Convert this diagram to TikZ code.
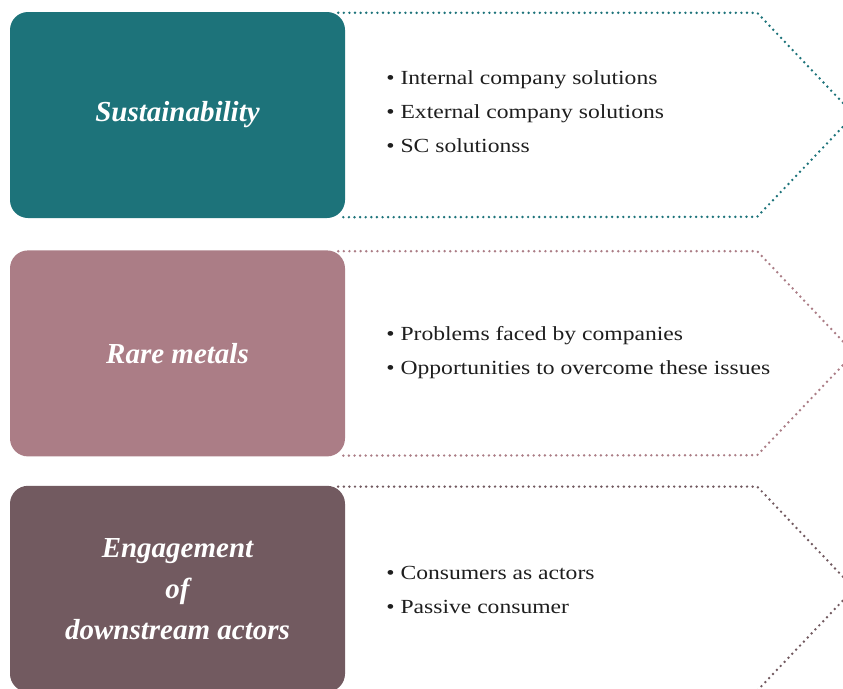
\documentclass[tikz,border=0pt]{standalone}
\usepackage{fontspec}
\setmainfont{Liberation Serif}
\newfontfamily\listfont{Liberation Serif}[FakeStretch=1.18]
\usetikzlibrary{positioning}
\definecolor{sustteal}{RGB}{29, 115, 122}
\definecolor{metalrose}{RGB}{171, 125, 134}
\definecolor{actorplum}{RGB}{114, 90, 96}
\definecolor{listgray}{RGB}{30, 30, 30}

\begin{document}
\begin{tikzpicture}[
  x=1pt, y=1pt,
  topicbox/.style={
    rectangle, rounded corners=18pt,
    fill=#1, text=white,
    font=\fontsize{29}{41}\selectfont\bfseries\itshape,
    minimum width=335pt, minimum height=206pt,
    inner sep=0pt, align=center
  },
  pointlist/.style={
    inner sep=0pt, align=left, text=listgray,
    font=\listfont\fontsize{20}{34}\selectfont
  },
  chevron/.style={
    draw=#1, line width=2.7pt, line cap=round,
    dash pattern=on 0pt off 5.6pt
  }
]

\useasboundingbox (0,0) rectangle (843,-688);
\clip (0,0) rectangle (843,-688);

% Topic 1
\node[topicbox=sustteal] (sust) at (177.5,-115) {Sustainability};
\node[pointlist, right=41pt of sust, yshift=3pt] (sustlist) {
    \textbullet\ Internal company solutions\\
    \textbullet\ External company solutions\\
    \textbullet\ SC solutionss
  };

% Topic 2
\node[topicbox=metalrose, below=32pt of sust] (metal) {Rare metals};
\node[pointlist, right=41pt of metal, yshift=0.5pt] (metallist) {
    \textbullet\ Problems faced by companies\\
    \textbullet\ Opportunities to overcome these issues
  };

% Topic 3
\node[topicbox=actorplum, below=29pt of metal] (actor) {Engagement\\of\\downstream actors};
\node[pointlist, right=41pt of actor, yshift=-1pt] (actorlist) {
    \textbullet\ Consumers as actors\\
    \textbullet\ Passive consumer
  };

% dotted chevrons
\draw[chevron=sustteal] ([xshift=-7pt, yshift=-1pt]sust.north east)
  -- ++(419,0) -- ++(97,-102) -- ++(-97,-102)
  -- ([xshift=-7pt, yshift=1pt]sust.south east);
\draw[chevron=metalrose] ([xshift=-7pt, yshift=-1pt]metal.north east)
  -- ++(419,0) -- ++(97,-102) -- ++(-97,-102)
  -- ([xshift=-7pt, yshift=1pt]metal.south east);
\draw[chevron=actorplum] ([xshift=-7pt, yshift=-1pt]actor.north east)
  -- ++(419,0) -- ++(97,-102) -- ++(-97,-102)
  -- ([xshift=-7pt, yshift=1pt]actor.south east);

\end{tikzpicture}
\end{document}
